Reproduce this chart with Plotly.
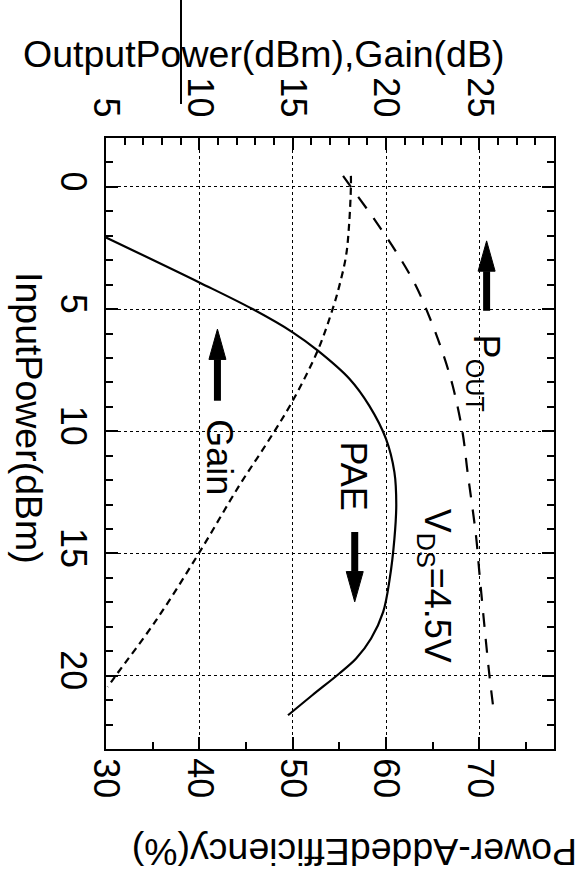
import plotly.graph_objects as go

# ---- data ----
pin_pae = [2.07, 3.91, 5.0, 5.95, 6.70, 7.86, 8.95, 10.31, 11.67, 13.0, 14.4, 16.03, 17.39, 18.48, 19.30, 19.91, 20.8, 21.62]
pae = [30.0, 40.0, 45.7, 50.0, 52.7, 56.1, 58.2, 60.0, 60.9, 61.1, 60.9, 60.4, 59.7, 58.4, 56.8, 55.0, 52.1, 49.5]

pin_pout = [-0.45, 0.0, 1.32, 2.75, 4.05, 5.48, 6.77, 8.13, 10.04, 11.67, 14.26, 15.76, 17.94, 19.98, 21.62]
pout = [17.7, 18.12, 19.37, 20.62, 21.6, 22.41, 23.03, 23.57, 24.1, 24.37, 24.82, 25.0, 25.27, 25.54, 25.8]

pin_gain = [-0.45, 0.0, 1.46, 2.82, 4.05, 5.0, 6.70, 8.81, 10.45, 12.22, 15.01, 17.74, 19.98, 20.46]
gain = [18.12, 18.12, 18.03, 17.86, 17.5, 17.14, 16.34, 14.96, 13.65, 12.14, 9.96, 7.68, 5.54, 5.09]

pae_ticks = [30, 40, 50, 60, 70]
pout_ticks = [5, 10, 15, 20, 25]
pin_ticks = [0, 5, 10, 15, 20]

FONT = "Liberation Sans, Arial, Helvetica, sans-serif"
TICK_FS = 36
TITLE_FS = 37.5
LABEL_FS = 36

fig = go.Figure()
fig.add_trace(go.Scatter(x=pae, y=pin_pae, mode="lines", xaxis="x", yaxis="y",
                         line=dict(color="black", width=2.2, shape="spline", smoothing=1.0),
                         showlegend=False, hoverinfo="skip"))
fig.add_trace(go.Scatter(x=pout, y=pin_pout, mode="lines", xaxis="x2", yaxis="y",
                         line=dict(color="black", width=2.2, dash="14px,12px", shape="spline", smoothing=1.0),
                         showlegend=False, hoverinfo="skip"))
fig.add_trace(go.Scatter(x=gain, y=pin_gain, mode="lines", xaxis="x2", yaxis="y",
                         line=dict(color="black", width=2.2, dash="7px,5px", shape="spline", smoothing=1.0),
                         showlegend=False, hoverinfo="skip"))

axis_common = dict(
    showline=True, linecolor="black", linewidth=2,
    ticks="inside", ticklen=12, tickwidth=2, tickcolor="black",
    tickangle=90, tickfont=dict(family=FONT, size=TICK_FS, color="black"),
    zeroline=False, automargin=False, fixedrange=True,
)

fig.update_layout(
    width=586, height=878, autosize=False,
    margin=dict(l=106, r=32, t=138, b=129, pad=0),
    plot_bgcolor="white", paper_bgcolor="white",
    xaxis=dict(range=[30, 78], tickvals=pae_ticks,
               minor=dict(dtick=5, tick0=30, ticks="inside", ticklen=7, tickwidth=2, tickcolor="black", showgrid=False),
               showgrid=True, gridcolor="black", gridwidth=1, griddash="dot",
               **axis_common),
    xaxis2=dict(range=[5, 29], tickvals=pout_ticks, overlaying="x", side="top",
                minor=dict(dtick=1, tick0=5, ticks="inside", ticklen=7, tickwidth=2, tickcolor="black", showgrid=False),
                showgrid=False, ticklabelstandoff=6, **axis_common),
    yaxis=dict(range=[23, -2], tickvals=pin_ticks, mirror="ticks",
               minor=dict(dtick=1, tick0=0, ticks="inside", ticklen=7, tickwidth=2, tickcolor="black", showgrid=False),
               showgrid=True, gridcolor="black", gridwidth=1, griddash="dot",
               **axis_common),
)

# axis titles
tf = dict(family=FONT, size=TITLE_FS, color="black")
lf = dict(family=FONT, size=LABEL_FS, color="black")
fig.add_annotation(text="OutputPower(dBm),Gain(dB)", xref="paper", yref="paper",
                   x=(263 - 106) / 448, y=1 + (138 - 54) / 611, showarrow=False,
                   xanchor="center", yanchor="middle", font=tf)
fig.add_annotation(text="InputPower(dBm)", xref="paper", yref="paper", textangle=90,
                   x=(29 - 106) / 448, y=1 - (418 - 138) / 611, showarrow=False,
                   xanchor="center", yanchor="middle", font=tf)
fig.add_annotation(text="Power-AddedEfficiency(%)", xref="paper", yref="paper", textangle=180,
                   x=(355 - 106) / 448, y=1 - (852 - 138) / 611, showarrow=False,
                   xanchor="center", yanchor="middle", font=tf)

# in-plot labels
fig.add_annotation(text="Gain", xref="x", yref="y", x=42.07, y=11.05, textangle=90,
                   showarrow=False, font=lf)
fig.add_annotation(text="PAE", xref="x", yref="y", x=56.5, y=11.82, textangle=90,
                   showarrow=False, font=lf)
fig.add_annotation(text="P<sub>OUT</sub>", xref="x", yref="y", x=70.5, y=7.6, textangle=90,
                   showarrow=False, font=lf)
fig.add_annotation(text="V<sub>DS</sub>=4.5V", xref="x", yref="y", x=65.2, y=16.3, textangle=90,
                   showarrow=False, font=lf)

# block arrows (x in PAE units, y in input-power units)
def block_arrow(xc, tail, base, tip, half=0.91):
    fig.add_shape(type="line", xref="x", yref="y", x0=xc, x1=xc, y0=tail, y1=base,
                  line=dict(color="black", width=7))
    fig.add_shape(type="path", xref="x", yref="y",
                  path=f"M {xc - half},{base} L {xc + half},{base} L {xc},{tip} Z",
                  fillcolor="black", line=dict(color="black", width=1))

block_arrow(70.78, 5.07, 3.45, 2.21)
block_arrow(41.94, 8.75, 7.06, 5.82)
block_arrow(56.65, 14.12, 15.74, 16.98)

# stray vertical stroke through the top title
fig.add_shape(type="line", xref="paper", yref="paper",
              x0=(181 - 106) / 448, x1=(181 - 106) / 448,
              y0=1 + 138 / 611, y1=1 + (138 - 104) / 611,
              line=dict(color="black", width=2))

fig.write_html("out.html", config={"displayModeBar": False, "staticPlot": True},
               post_script="document.body.style.margin='0';document.body.style.overflow='hidden';")
